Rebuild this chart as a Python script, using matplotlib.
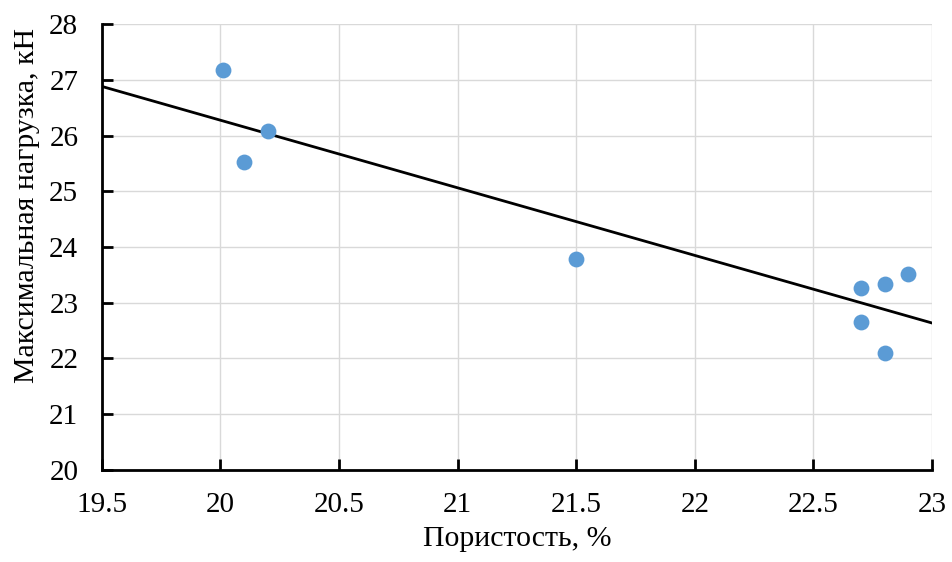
import numpy as np
import matplotlib.pyplot as plt

plt.rcParams['font.family'] = ['Liberation Serif', 'DejaVu Serif']

# данные
poristost = [20.01, 20.2, 20.1, 21.5, 22.7, 22.8, 22.9, 22.7, 22.8]
nagruzka = [27.17, 26.09, 25.52, 23.78, 23.26, 23.33, 23.52, 22.65, 22.1]
x_ticks = [19.5, 20, 20.5, 21, 21.5, 22, 22.5, 23]
y_ticks = [20, 21, 22, 23, 24, 25, 26, 27, 28]

fig = plt.figure(figsize=(9.52, 5.62), dpi=100)
ax = fig.add_axes([0.107, 0.164, 0.872, 0.793])

ax.scatter(poristost, nagruzka, s=130, color='#5B9BD5', zorder=3, linewidths=0)

# линейный тренд
k, b = np.polyfit(poristost, nagruzka, 1)
xx = np.array([19.5, 23])
ax.plot(xx, k * xx + b, color='black', lw=2, zorder=2)

ax.set_xlim(19.5, 23)
ax.set_ylim(20, 28)
ax.set_xticks(x_ticks)
ax.set_xticklabels([str(t) for t in x_ticks])
ax.set_yticks(y_ticks)
ax.grid(True, color='#d9d9d9', lw=1)
ax.set_axisbelow(True)

for s in ['top', 'right']:
    ax.spines[s].set_visible(False)
for s in ['left', 'bottom']:
    ax.spines[s].set_linewidth(2)
    ax.spines[s].set_color('black')

ax.tick_params(axis='both', direction='in', length=8, width=2, labelsize=21)
ax.tick_params(axis='x', pad=16)
ax.tick_params(axis='y', pad=17)

ax.set_xlabel('Пористость, %', fontsize=21.5, labelpad=6)
ax.set_ylabel('Максимальная нагрузка, кН', fontsize=21.5)
ax.yaxis.set_label_coords(-0.090, 0.594)
ax.yaxis.label.set_va('center')

fig.savefig('out.png', dpi=100)
